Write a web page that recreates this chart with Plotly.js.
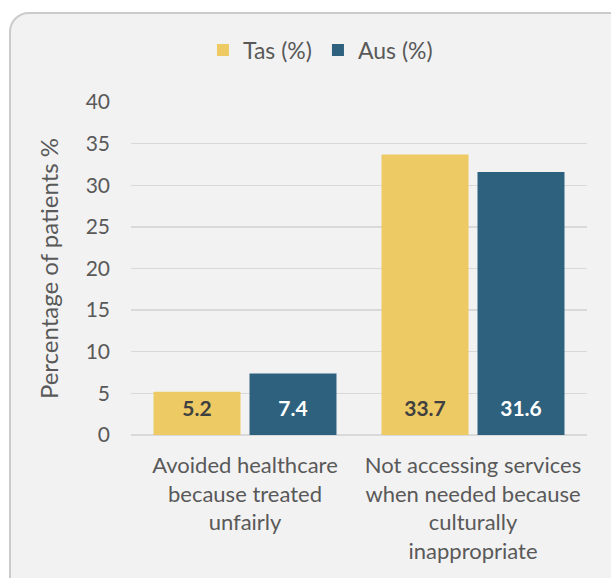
<!DOCTYPE html>
<html>
<head>
<meta charset="utf-8">
<script src="https://cdn.plot.ly/plotly-3.0.1.min.js"></script>
<style>
  html, body { margin:0; padding:0; background:#ffffff; width:611px; height:578px; overflow:hidden; }
  #frame { position:absolute; left:9px; top:12px; width:640px; height:620px; background:#f2f2f2;
           border:2px solid #cbcbcb; border-radius:20px; }
  #chart { position:absolute; left:0; top:0; width:611px; height:578px; }
</style>
</head>
<body>
<div id="frame"></div>
<div id="chart"></div>
<script>
const categories = [
  "Avoided healthcare<br>because treated<br>unfairly",
  "Not accessing services<br>when needed because<br>culturally<br>inappropriate"
];
const seriesNames = ["Tas (%)", "Aus (%)"];
const tasValues = [5.2, 33.7];
const ausValues = [7.4, 31.6];
const yTicks = [0, 5, 10, 15, 20, 25, 30, 35, 40];

const font = "Lato, 'Open Sans', sans-serif";
const grey = "#595959";
const GAP = 0.158;

function labelTrace(values, color) {
  // value labels sitting at the base of each bar ("inside base")
  return {
    type: "scatter", mode: "markers+text", x: categories, y: values.map(() => 0),
    text: values.map(v => v.toFixed(1)), textposition: "top center",
    marker: { size: 20, color: "rgba(0,0,0,0)" },
    textfont: { family: font, size: 21, color: color, weight: "bold" },
    showlegend: false, hoverinfo: "none", cliponaxis: false
  };
}

const traces = [
  { type: "bar", name: seriesNames[0], x: categories, y: tasValues,
    marker: { color: "#EDCA64" }, hoverinfo: "none" },
  { type: "bar", name: seriesNames[1], x: categories, y: ausValues,
    marker: { color: "#2E617E" }, hoverinfo: "none" },
  labelTrace(tasValues, "#404040"),
  labelTrace(ausValues, "#ffffff")
];

const layout = {
  width: 611, height: 578,
  margin: { l: 131, r: 24, t: 102, b: 143 },
  paper_bgcolor: "rgba(0,0,0,0)",
  plot_bgcolor: "rgba(0,0,0,0)",
  barmode: "group",
  bargap: GAP,
  bargroupgap: 0.094,
  scattermode: "group",
  scattergap: GAP,
  font: { family: font, color: grey, size: 21 },
  showlegend: true,
  legend: {
    orientation: "h", x: 0.41, xanchor: "center", y: 1.156, yanchor: "middle",
    font: { family: font, size: 23, color: grey }, bgcolor: "rgba(0,0,0,0)",
    itemwidth: 30, tracegroupgap: 0, entrywidth: 70
  },
  xaxis: {
    type: "category", showgrid: false, zeroline: false, showline: false,
    ticks: "", ticklabelstandoff: 15, tickfont: { family: font, size: 22, color: grey },
    tickangle: 0, automargin: false
  },
  yaxis: {
    range: [0, 40], tickvals: yTicks, ticktext: yTicks.map(String),
    showgrid: true, gridcolor: "#d9d9d9", gridwidth: 1.3,
    zeroline: true, zerolinecolor: "#d9d9d9", zerolinewidth: 1.3,
    showline: false, ticks: "", ticklabelstandoff: 20,
    tickfont: { family: font, size: 21, color: grey },
    title: { text: "Percentage of patients %", font: { family: font, size: 24, color: grey }, standoff: 20 },
    automargin: false
  }
};

Plotly.newPlot("chart", traces, layout, { staticPlot: true, displayModeBar: false });
</script>
</body>
</html>
